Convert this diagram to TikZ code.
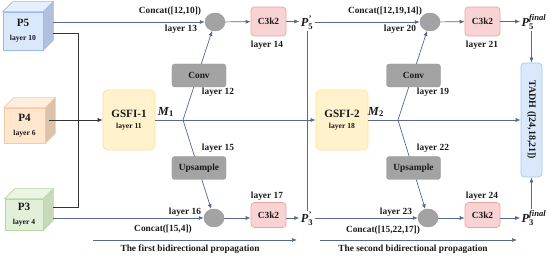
\documentclass[tikz,border=0pt]{standalone}
\usepackage{amsmath,amssymb}
\usepackage{graphicx}
\usepackage{fontspec}
\setmainfont{Liberation Serif}
\usepackage{tikz}
\usetikzlibrary{arrows.meta,positioning,calc,shapes.geometric}
\definecolor{ink}{HTML}{1A1A1A}
\definecolor{linkblue}{HTML}{56698F}
\definecolor{darkline}{HTML}{333333}
\definecolor{p5front}{HTML}{DAE8FC}
\definecolor{p5top}{HTML}{E6EFFD}
\definecolor{p5side}{HTML}{B3C0DD}
\definecolor{p5edge}{HTML}{9DB8E6}
\definecolor{p4front}{HTML}{FFE6CC}
\definecolor{p4top}{HTML}{FFEEDD}
\definecolor{p4side}{HTML}{DCC2A8}
\definecolor{p4edge}{HTML}{F2CBA6}
\definecolor{p3front}{HTML}{E2F0D9}
\definecolor{p3top}{HTML}{EBF5E4}
\definecolor{p3side}{HTML}{C6D9B9}
\definecolor{p3edge}{HTML}{B3D99B}
\definecolor{gsfifill}{HTML}{FFF2CC}
\definecolor{gsfiedge}{HTML}{FFE08A}
\definecolor{opfill}{HTML}{A3A3A3}
\definecolor{opedge}{HTML}{999999}
\definecolor{c3fill}{HTML}{F8D3D3}
\definecolor{c3edge}{HTML}{EFA3A3}
\definecolor{tadhfill}{HTML}{DAE8FC}
\definecolor{tadhedge}{HTML}{A9C4EB}
\newcommand{\featp}[2]{\textit{P}$^{\text{\itshape #2}}_{\text{#1}}$}
\newcommand{\fusedm}[1]{\textit{M}$_{\text{#1}}$}

\begin{document}
\begin{tikzpicture}[
  x=0.03cm, y=-0.03cm,
  every node/.style={text=ink, font=\bfseries\fontsize{8}{9}\selectfont},
  cube/.style={draw=#1edge, fill=#1front, line width=0.5pt, inner sep=0pt, align=center, font=\bfseries\fontsize{9.5}{12}\selectfont},
  gsfi/.style={draw=gsfiedge, fill=gsfifill, line width=0.6pt, rounded corners=4pt, minimum width=1.56cm, minimum height=1.8cm, align=center, font=\bfseries\fontsize{9.5}{10}\selectfont},
  opbox/.style={draw=opedge, fill=opfill, rounded corners=2.5pt, minimum width=1.62cm, minimum height=0.69cm},
  catdot/.style={ellipse, draw=opedge, fill=opfill, minimum width=0.6cm, minimum height=0.54cm, inner sep=0pt},
  c3box/.style={draw=c3edge, fill=c3fill, line width=0.6pt, rounded corners=3pt, minimum width=1.05cm, minimum height=0.87cm},
  tadhbox/.style={draw=tadhedge, fill=tadhfill, line width=0.6pt, rounded corners=3pt, minimum width=0.63cm, minimum height=3.42cm, inner sep=0pt, font=\bfseries\fontsize{8.5}{9}\selectfont},
  lbl/.style={inner sep=1pt},
  featlbl/.style={inner sep=1pt, font=\bfseries\fontsize{10.5}{11}\selectfont},
  arr/.style={-{Latex[length=1.5mm,width=1.2mm]}, line width=0.6pt, draw=linkblue},
  dark/.style={line width=0.7pt, draw=darkline}
]
\useasboundingbox (0,0) rectangle (550,258);

% input feature cubes
\node[cube=p5, minimum width=1.2cm, minimum height=1.14cm] (p5) at (23,31) {P5\\{\fontsize{6.5}{8}\selectfont layer 10}};
\node[cube=p4, minimum width=1.23cm, minimum height=1.05cm] (p4) at (24.5,125.5) {P4\\{\fontsize{6.5}{8}\selectfont layer 6}};
\node[cube=p3, minimum width=1.14cm, minimum height=0.93cm] (p3) at (24,214.5) {P3\\{\fontsize{6.5}{8}\selectfont layer 4}};
\foreach \cb in {p5,p4,p3} {
  \filldraw[fill={\cb top}, draw={\cb edge}, line width=0.5pt] (\cb.north west) -- ++(10,-10) -- ($(\cb.north east)+(10,-10)$) -- (\cb.north east) -- cycle;
  \filldraw[fill={\cb side}, draw={\cb edge}, line width=0.5pt] (\cb.north east) -- ++(10,-10) -- ($(\cb.south east)+(10,-10)$) -- (\cb.south east) -- cycle;
}
\coordinate (p5out) at (53,22);
\coordinate (p5link) at (53,33);
\coordinate (p4out) at (49,120);
\coordinate (p3link) at (53,207);
\coordinate (p3out) at (53,218);

% fusion blocks
\node[gsfi] (gsfi1) at (129,120) {GSFI-1\\[-1pt]{\fontsize{6.5}{7}\selectfont layer 11}};
\node[gsfi] (gsfi2) at (342,120) {GSFI-2\\[-1pt]{\fontsize{6.5}{7}\selectfont layer 18}};
\node[tadhbox] (tadh) at (531.5,120) {\rotatebox{-90}{TADH ([24,18,21])}};

% concat points and C3k2
\node[catdot] (c13) at (215,22) {};
\node[catdot] (c16) at (214,218) {};
\node[catdot] (c20) at (430,22) {};
\node[catdot] (c23) at (428,218) {};
\node[c3box] (c14) at (268.5,21.5) {C3k2};
\node[c3box, minimum height=0.75cm] (c17) at (268.5,215) {C3k2};
\node[c3box] (c21) at (482.5,21.5) {C3k2};
\node[c3box, minimum height=0.75cm] (c24) at (482.5,215) {C3k2};

\node[featlbl] (p5p) at (307,23) {\featp{5}{'}};
\node[featlbl] (p3p) at (307,219) {\featp{3}{'}};
\node[featlbl] (p5f) at (534,22) {\featp{5}{final}};
\node[featlbl] (p3f) at (534,218) {\featp{3}{final}};

\coordinate (m1) at (183,120);
\coordinate (m2) at (398,120);

% connectors
\draw[dark] (p5link) -- ++(25,0) |- (p3link);
\draw[arr, draw=darkline] (p4out) -- (gsfi1);
\draw[arr] (p5out) -- (c13);
\draw[arr] (p3out) -- (c16);
\draw[arr] (gsfi1) -- (gsfi2);
\draw[arr] (gsfi2) -- (tadh);
\draw[arr] (m1) -- (c13);
\draw[arr] (m1) -- (c16);
\draw[arr] (m2) -- (c20);
\draw[arr] (m2) -- (c23);
\draw[arr] (c13) -- (c14);
\draw[arr] (c14) -- (c14 -| p5p.west);
\draw[arr] (p5p.east |- c20) -- (c20);
\draw[arr] (c20) -- (c21);
\draw[arr] (c21) -- (c21 -| p5f.west);
\draw[arr] (c16) -- (c16 -| c17.west);
\draw[arr] (c17.east |- c16) -- (c16 -| p3p.west);
\draw[arr] (p3p.east |- c23) -- (c23);
\draw[arr] (c23) -- (c23 -| c24.west);
\draw[arr] (c24.east |- c23) -- (c23 -| p3f.west);
\draw[line width=0.6pt, draw=linkblue] (p5p) -- (p3p);
\draw[arr] (tadh.north |- p5f.south) -- (tadh.north);
\draw[arr] (tadh.south |- p3f.north) -- (tadh.south);

% conv / upsample sit on the branch lines
\node[opbox] (conv1) at (199,75.5) {Conv};
\node[opbox] (up1) at (199,168) {Upsample};
\node[opbox] (conv2) at (413.5,75.5) {Conv};
\node[opbox] (up2) at (413.5,168) {Upsample};

% labels
\node[featlbl] at (166,112) {\fusedm{1}};
\node[featlbl] at (376,112) {\fusedm{2}};
\node[lbl] at (170,11) {Concat([12,10])};
\node[lbl] at (181,29) {layer 13};
\node[lbl] at (218,92) {layer 12};
\node[lbl] at (267,45) {layer 14};
\node[lbl] at (385,11) {Concat([12,19,14])};
\node[lbl] at (400,29) {layer 20};
\node[lbl] at (433,92) {layer 19};
\node[lbl] at (482,45) {layer 21};
\node[lbl] at (218,148) {layer 15};
\node[lbl] at (185,212) {layer 16};
\node[lbl] at (163,229) {Concat([15,4])};
\node[lbl] at (267,196) {layer 17};
\node[lbl] at (433,148) {layer 22};
\node[lbl] at (396,212) {layer 23};
\node[lbl] at (383,230) {Concat([15,22,17])};
\node[lbl] at (482,196) {layer 24};

% propagation arrows
\coordinate (pa1) at (93,240);
\coordinate (pa2) at (297,240);
\coordinate (pb1) at (320,240);
\coordinate (pb2) at (517,240);
\draw[arr] (pa1) -- (pa2);
\draw[arr] (pb1) -- (pb2);
\node[lbl] at (190,249) {The first bidirectional propagation};
\node[lbl] at (413,249) {The second bidirectional propagation};
\end{tikzpicture}
\end{document}
